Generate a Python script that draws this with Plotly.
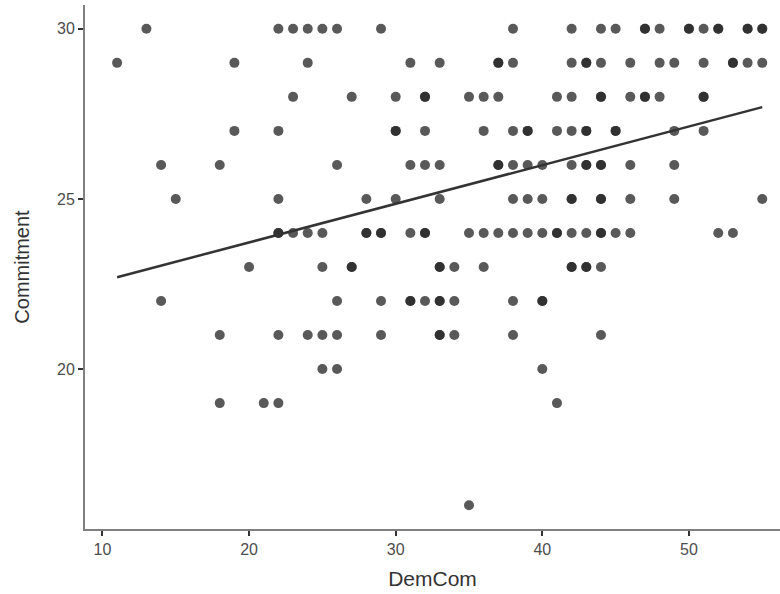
import numpy as np
import plotly.graph_objects as go

# DemCom values observed at each Commitment level (duplicates = overplotted points)
demcom_at_30 = [13, 22, 23, 24, 25, 26, 29, 38, 42, 44, 45, 47, 47, 48, 50, 50, 51, 52, 52, 54, 54, 55, 55]
demcom_at_29 = [11, 19, 24, 31, 33, 37, 37, 38, 42, 43, 43, 44, 46, 48, 49, 51, 53, 53, 54, 55]
demcom_at_28 = [23, 27, 30, 32, 32, 35, 36, 37, 41, 42, 44, 44, 46, 47, 47, 48, 51, 51]
demcom_at_27 = [19, 22, 30, 30, 32, 36, 38, 39, 39, 41, 42, 43, 43, 45, 45, 49, 51]
demcom_at_26 = [14, 18, 26, 31, 32, 33, 37, 37, 38, 39, 40, 42, 43, 43, 44, 44, 46, 49]
demcom_at_25 = [15, 22, 28, 30, 33, 38, 39, 40, 42, 42, 44, 44, 46, 49, 55]
demcom_at_24 = [22, 22, 23, 24, 25, 28, 28, 29, 29, 31, 32, 32, 35, 36, 37, 38, 39, 40,
                41, 41, 42, 43, 44, 44, 45, 46, 52, 53]
demcom_at_23 = [20, 25, 27, 27, 33, 33, 34, 36, 42, 42, 43, 43, 44]
demcom_at_22 = [14, 26, 29, 31, 31, 32, 33, 33, 34, 38, 40, 40]
demcom_at_21 = [18, 22, 24, 25, 26, 29, 33, 33, 34, 38, 44]
demcom_at_20 = [25, 26, 40]
demcom_at_19 = [18, 21, 22, 41]
demcom_at_16 = [35]

levels = [30, 29, 28, 27, 26, 25, 24, 23, 22, 21, 20, 19, 16]
rows = [demcom_at_30, demcom_at_29, demcom_at_28, demcom_at_27, demcom_at_26,
        demcom_at_25, demcom_at_24, demcom_at_23, demcom_at_22, demcom_at_21,
        demcom_at_20, demcom_at_19, demcom_at_16]

# Linear fit shown in the chart (~22.7 at DemCom=11, ~27.7 at 55)
fit_intercept = 21.45
fit_slope = 0.1136

x = []
y = []
for lvl, r in zip(levels, rows):
    x.extend(r)
    y.extend([lvl] * len(r))
x = np.array(x, dtype=float)
y = np.array(y, dtype=float)

xl = np.array([x.min(), x.max()])
yl = fit_intercept + fit_slope * xl

font = "Liberation Sans, Arial, sans-serif"

fig = go.Figure()
fig.add_trace(go.Scatter(
    x=x, y=y, mode="markers",
    marker=dict(color="rgb(37,37,37)", opacity=0.76, size=10, line=dict(width=0)),
    showlegend=False, hoverinfo="skip"))
fig.add_trace(go.Scatter(
    x=xl, y=yl, mode="lines",
    line=dict(color="#333333", width=2.5),
    showlegend=False, hoverinfo="skip"))

fig.update_layout(
    width=780, height=594,
    margin=dict(l=85, r=0, t=5, b=65),
    paper_bgcolor="white", plot_bgcolor="white",
    font=dict(family=font, color="#333333"),
    xaxis=dict(
        range=[8.81, 56.21], tickvals=[10, 20, 30, 40, 50],
        showgrid=False, zeroline=False,
        showline=True, linecolor="#808080", linewidth=2,
        ticks="outside", ticklen=5, tickwidth=1.5, tickcolor="#333333",
        tickfont=dict(size=16, color="#4d4d4d", family=font),
        title=dict(text="DemCom", font=dict(size=21, color="#333333", family=font), standoff=14),
    ),
    yaxis=dict(
        range=[15.3, 30.7], tickvals=[20, 25, 30],
        showgrid=False, zeroline=False,
        showline=True, linecolor="#808080", linewidth=2,
        ticks="outside", ticklen=5, tickwidth=1.5, tickcolor="#333333",
        tickfont=dict(size=16, color="#4d4d4d", family=font),
        title=dict(text="Commitment", font=dict(size=20, color="#333333", family=font), standoff=22),
    ),
)

fig.write_html("out.html")
